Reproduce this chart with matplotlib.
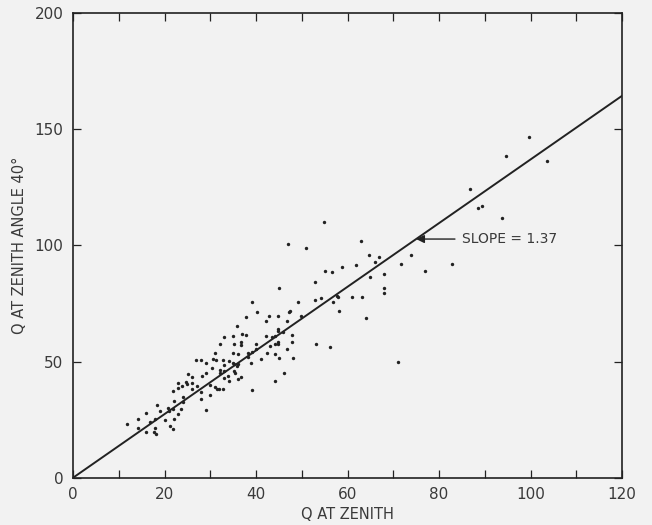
import matplotlib
matplotlib.use("Agg")
import matplotlib.pyplot as plt
import numpy as np
from matplotlib.ticker import MultipleLocator

# Q at zenith vs Q at zenith angle 40 deg
q_zenith = [
    11.8, 14.1, 14.3, 16.0, 16.0, 16.9, 17.9, 17.9, 17.6, 18.2, 18.4, 19.1, 20.1,
    20.7, 21.0, 21.2, 21.9, 21.8, 22.1, 22.1, 22.9, 21.8, 22.9, 22.9, 23.7, 24.1,
    24.0, 23.8, 24.9, 24.8, 25.1, 25.9, 26.0, 26.1, 27.1, 27.9, 28.3, 29.1, 29.0,
    29.1, 29.9,
    39.1, 37.9, 40.2, 42.8, 42.1, 44.7, 35.8, 32.9, 35.0, 36.9, 37.9, 36.8, 36.8,
    32.1, 35.1, 39.9, 42.1, 44.1, 44.8, 44.7, 43.0, 31.0, 35.0, 36.1, 38.2, 39.1,
    40.1, 42.3, 44.2, 38.2, 41.0, 26.8, 28.0, 30.7, 31.2, 32.8, 34.0, 35.0, 35.2,
    36.0, 35.8, 33.0, 30.3, 38.8, 32.1, 32.1, 32.9, 35.1, 35.4, 36.8, 36.1, 32.9,
    34.0, 33.9, 28.0, 31.0, 31.5, 31.9, 32.8, 30.0, 39.1,
    54.8, 46.9, 50.9, 58.8, 55.1, 56.7, 53.0, 45.0, 49.1, 52.8, 54.1, 57.7, 58.0,
    56.8, 47.4, 47.1, 49.8, 58.1, 46.8,
    44.9, 45.9, 43.6, 47.8, 44.1, 44.9, 47.9, 46.8, 53.1, 56.1, 45.0, 48.0, 46.1,
    44.1,
    62.9, 64.7, 66.9, 66.0, 73.9, 61.8, 71.7, 77.0, 67.9, 64.9, 67.9, 67.9, 60.9,
    63.1, 64.0, 71.1,
    99.7, 94.7, 103.5, 86.8, 88.5, 89.5, 93.7, 82.8,
]
q_angle40 = [
    23.2, 25.1, 21.3, 27.7, 19.6, 24.1, 25.3, 21.5, 19.7, 18.8, 31.3, 28.8, 24.8,
    30.1, 28.7, 22.2, 20.8, 29.4, 33.1, 25.1, 27.5, 37.3, 38.6, 40.9, 29.5, 32.4,
    34.6, 39.4, 40.4, 41.3, 44.5, 40.6, 38.1, 43.2, 39.4, 34.1, 43.8, 45.2, 29.1,
    49.5, 39.9,
    75.6, 69.3, 71.2, 69.7, 67.6, 69.7, 65.3, 60.7, 61.1, 61.7, 61.3, 58.5, 57.3,
    57.4, 57.4, 57.7, 61.0, 61.0, 63.9, 58.5, 56.8, 53.5, 53.5, 53.1, 53.5, 54.0,
    55.3, 53.5, 53.1, 52.1, 51.2, 50.9, 50.9, 51.2, 50.9, 50.6, 50.3, 49.5, 48.9,
    48.9, 48.1, 48.5, 47.1, 49.2, 46.3, 45.2, 45.9, 45.9, 44.9, 43.2, 42.6, 42.8,
    41.6, 43.8, 37.0, 38.9, 38.0, 38.4, 38.4, 35.6, 37.7,
    110.3, 100.6, 98.8, 90.6, 89.1, 88.4, 84.4, 81.6, 75.5, 76.5, 77.5, 78.2, 77.7,
    75.5, 71.9, 71.3, 69.7, 71.6, 67.6,
    63.2, 62.7, 60.5, 61.4, 57.5, 57.5, 58.3, 55.4, 57.4, 56.1, 51.4, 51.4, 45.3,
    41.7,
    102.1, 95.9, 94.9, 92.8, 95.8, 91.5, 91.9, 89.0, 87.7, 86.6, 81.8, 79.7, 77.7,
    77.7, 68.6, 49.8,
    146.6, 138.6, 136.4, 124.2, 116.3, 117.0, 112.0, 92.0,
]
slope = 1.37
line_x = [0, 120]

bg = "#f2f2f2"
ink = "#222222"
txt = "#3a3a3a"

fig = plt.figure(figsize=(6.52, 5.25), dpi=100, facecolor=bg)
ax = fig.add_axes([0.112, 0.09, 0.842, 0.885], facecolor=bg)

ax.scatter(q_zenith, q_angle40, s=6, color=ink, linewidths=0, zorder=3)
ax.plot(line_x, [slope * v for v in line_x], color=ink, lw=1.4, zorder=2)

ax.annotate("SLOPE = 1.37", xy=(75, slope * 75), xytext=(85, slope * 75),
            va="center", ha="left", fontsize=10, color=txt,
            arrowprops=dict(arrowstyle="-|>", color=ink, lw=1.0,
                            mutation_scale=12, shrinkA=3, shrinkB=0))

ax.set_xlim(0, 120)
ax.set_ylim(0, 200)
ax.xaxis.set_major_locator(MultipleLocator(20))
ax.xaxis.set_minor_locator(MultipleLocator(10))
ax.yaxis.set_major_locator(MultipleLocator(50))
ax.tick_params(which="both", direction="in", top=True, right=True,
               length=6, width=0.9, color=ink, labelsize=11,
               labelcolor=txt, pad=7)
for s in ax.spines.values():
    s.set_linewidth(1.2)
    s.set_color(ink)

ax.set_xlabel("Q AT ZENITH", fontsize=10.5, color=txt, labelpad=3)
ax.set_ylabel("Q AT ZENITH ANGLE 40°", fontsize=10.5, color=txt, labelpad=5)

fig.savefig("out.png", dpi=100, facecolor=bg)
